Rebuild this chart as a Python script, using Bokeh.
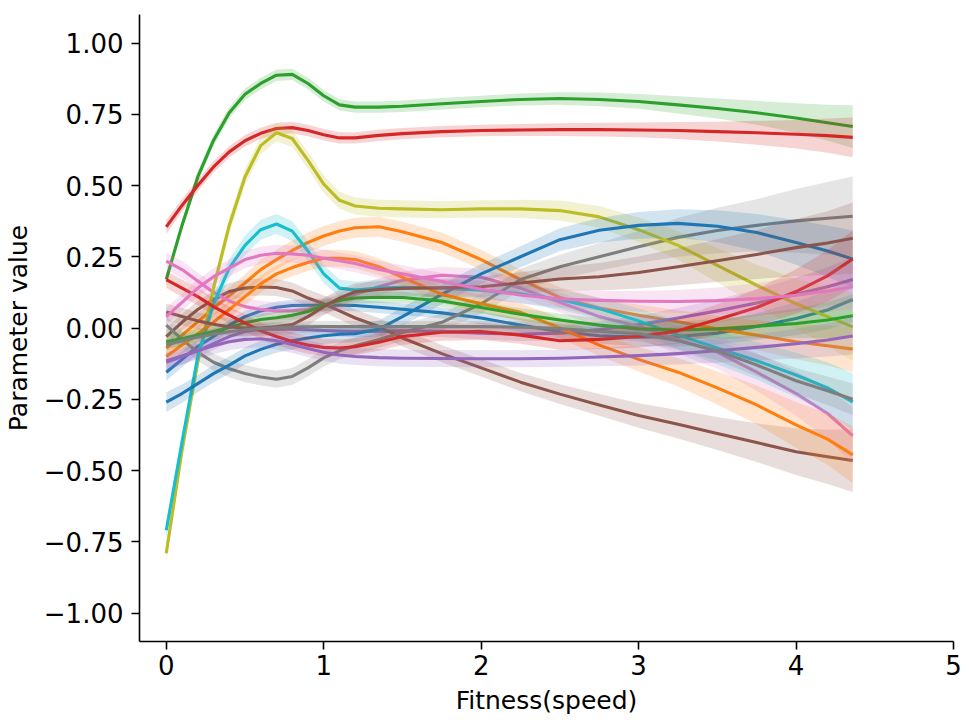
from bokeh.plotting import figure
from bokeh.models import Range1d, FixedTicker
from bokeh.embed import file_html
from bokeh.resources import INLINE

# x positions at which the curves were read
XS = [0, 0.1, 0.2, 0.3, 0.4, 0.5, 0.6, 0.7, 0.8, 0.9, 1.0, 1.1, 1.2, 1.35, 1.5, 1.75,
      2.0, 2.25, 2.5, 2.75, 3.0, 3.25, 3.5, 3.75, 4.0, 4.2, 4.36]

blue_1 = [-0.155, -0.11, -0.065, -0.03, 0.01, 0.04, 0.06, 0.073, 0.079, 0.08, 0.08, 0.08, 0.079, 0.073,
          0.066, 0.053, 0.035, 0.01, -0.012, -0.027, -0.032, -0.03, -0.018, 0.005, 0.033, 0.063, 0.10]
blue_1_ci = [0.03, 0.028, 0.025, 0.022, 0.02, 0.02, 0.02, 0.02, 0.02, 0.02, 0.02, 0.02, 0.02, 0.02,
             0.02, 0.02, 0.022, 0.024, 0.026, 0.028, 0.031, 0.035, 0.04, 0.047, 0.058, 0.068, 0.08]

orange_1 = [-0.07, -0.025, 0.022, 0.07, 0.113, 0.158, 0.205, 0.24, 0.272, 0.30, 0.323, 0.34, 0.352, 0.355,
            0.338, 0.30, 0.24, 0.17, 0.107, 0.07, 0.045, 0.022, -0.003, -0.025, -0.048, -0.062, -0.074]
orange_1_ci = [0.03, 0.03, 0.03, 0.03, 0.03, 0.03, 0.035, 0.035, 0.035, 0.035, 0.035, 0.035, 0.035, 0.035,
               0.035, 0.035, 0.035, 0.035, 0.035, 0.035, 0.037, 0.04, 0.045, 0.052, 0.062, 0.07, 0.08]

green_1 = [0.17, 0.36, 0.53, 0.658, 0.755, 0.82, 0.858, 0.887, 0.89, 0.858, 0.815, 0.783, 0.775, 0.775,
           0.778, 0.787, 0.795, 0.802, 0.805, 0.802, 0.795, 0.783, 0.77, 0.755, 0.737, 0.72, 0.707]
green_1_ci = [0.02, 0.02, 0.02, 0.02, 0.02, 0.02, 0.02, 0.02, 0.02, 0.02, 0.02, 0.02, 0.02, 0.02,
              0.02, 0.02, 0.02, 0.021, 0.022, 0.024, 0.026, 0.03, 0.035, 0.042, 0.052, 0.063, 0.075]

red_1 = [0.355, 0.43, 0.50, 0.565, 0.618, 0.657, 0.683, 0.70, 0.703, 0.693, 0.678, 0.667, 0.667, 0.676,
         0.682, 0.689, 0.693, 0.695, 0.696, 0.696, 0.695, 0.693, 0.689, 0.685, 0.68, 0.675, 0.669]
red_1_ci = [0.025, 0.022, 0.02, 0.02, 0.02, 0.02, 0.02, 0.02, 0.02, 0.02, 0.02, 0.02, 0.02, 0.02,
            0.02, 0.02, 0.02, 0.021, 0.022, 0.024, 0.026, 0.03, 0.035, 0.042, 0.05, 0.06, 0.07]

purple_1 = [-0.12, -0.10, -0.08, -0.055, -0.03, -0.012, -0.005, -0.003, -0.004, -0.006, -0.009, -0.011, -0.012, -0.011,
            -0.01, -0.012, -0.018, -0.022, -0.018, -0.005, 0.012, 0.035, 0.06, 0.088, 0.118, 0.145, 0.17]
purple_1_ci = [0.03, 0.028, 0.025, 0.022, 0.02, 0.02, 0.02, 0.02, 0.02, 0.02, 0.02, 0.02, 0.02, 0.02,
               0.02, 0.02, 0.022, 0.024, 0.026, 0.028, 0.031, 0.035, 0.04, 0.047, 0.058, 0.068, 0.08]

brown_1 = [-0.03, 0.02, 0.065, 0.10, 0.128, 0.14, 0.144, 0.142, 0.13, 0.105, 0.085, 0.06, 0.035, 0.005,
           -0.035, -0.09, -0.14, -0.19, -0.232, -0.27, -0.307, -0.338, -0.37, -0.402, -0.434, -0.452, -0.465]
brown_1_ci = [0.03, 0.03, 0.03, 0.03, 0.03, 0.03, 0.03, 0.03, 0.03, 0.03, 0.03, 0.03, 0.03, 0.03,
              0.03, 0.03, 0.03, 0.032, 0.035, 0.038, 0.043, 0.05, 0.058, 0.068, 0.082, 0.095, 0.11]

pink_1 = [0.235, 0.205, 0.165, 0.125, 0.095, 0.075, 0.065, 0.06, 0.06, 0.065, 0.077, 0.095, 0.118, 0.145,
          0.168, 0.185, 0.178, 0.14, 0.09, 0.04, 0.005, -0.04, -0.085, -0.155, -0.23, -0.30, -0.378]
pink_1_ci = [0.03, 0.03, 0.03, 0.03, 0.03, 0.03, 0.03, 0.03, 0.03, 0.03, 0.03, 0.03, 0.03, 0.03,
             0.03, 0.03, 0.03, 0.032, 0.035, 0.038, 0.043, 0.05, 0.058, 0.066, 0.078, 0.09, 0.10]

gray_1 = [0.01, -0.04, -0.085, -0.12, -0.143, -0.16, -0.172, -0.18, -0.17, -0.14, -0.105, -0.08, -0.062, -0.04,
          -0.016, 0.02, 0.085, 0.17, 0.215, 0.25, 0.285, 0.318, 0.342, 0.36, 0.376, 0.385, 0.392]
gray_1_ci = [0.03, 0.03, 0.03, 0.03, 0.03, 0.03, 0.03, 0.03, 0.03, 0.03, 0.03, 0.03, 0.03, 0.03,
             0.03, 0.03, 0.035, 0.038, 0.042, 0.048, 0.056, 0.068, 0.08, 0.092, 0.112, 0.127, 0.14]

olive_1 = [-0.79, -0.43, -0.12, 0.14, 0.36, 0.53, 0.64, 0.685, 0.665, 0.588, 0.505, 0.448, 0.428, 0.42,
           0.418, 0.415, 0.418, 0.418, 0.412, 0.39, 0.345, 0.29, 0.22, 0.15, 0.085, 0.04, 0.004]
olive_1_ci = [0.03, 0.03, 0.03, 0.03, 0.03, 0.03, 0.03, 0.03, 0.03, 0.03, 0.03, 0.03, 0.03, 0.03,
              0.03, 0.03, 0.03, 0.032, 0.035, 0.038, 0.043, 0.05, 0.06, 0.072, 0.088, 0.104, 0.12]

cyan_1 = [-0.71, -0.40, -0.10, 0.085, 0.21, 0.29, 0.345, 0.365, 0.34, 0.27, 0.19, 0.14, 0.133, 0.14,
          0.143, 0.14, 0.133, 0.12, 0.10, 0.068, 0.025, -0.025, -0.07, -0.115, -0.165, -0.21, -0.259]
cyan_1_ci = [0.03, 0.03, 0.03, 0.03, 0.033, 0.035, 0.035, 0.035, 0.035, 0.035, 0.032, 0.03, 0.03, 0.03,
             0.03, 0.03, 0.03, 0.032, 0.035, 0.038, 0.043, 0.05, 0.058, 0.066, 0.078, 0.09, 0.10]

blue_2 = [-0.26, -0.23, -0.195, -0.16, -0.13, -0.098, -0.075, -0.057, -0.045, -0.035, -0.027, -0.022, -0.02, -0.004,
          0.04, 0.118, 0.19, 0.25, 0.31, 0.343, 0.36, 0.367, 0.357, 0.335, 0.30, 0.27, 0.242]
blue_2_ci = [0.035, 0.032, 0.03, 0.03, 0.03, 0.03, 0.03, 0.03, 0.03, 0.03, 0.03, 0.03, 0.03, 0.03,
             0.032, 0.035, 0.035, 0.037, 0.04, 0.043, 0.047, 0.05, 0.056, 0.065, 0.078, 0.09, 0.10]

orange_2 = [-0.10, -0.06, -0.02, 0.02, 0.065, 0.11, 0.155, 0.19, 0.212, 0.23, 0.245, 0.245, 0.24, 0.215,
            0.178, 0.118, 0.085, 0.055, 0.0, -0.06, -0.11, -0.155, -0.21, -0.27, -0.34, -0.39, -0.445]
orange_2_ci = [0.03, 0.03, 0.03, 0.03, 0.03, 0.03, 0.03, 0.03, 0.03, 0.03, 0.03, 0.03, 0.03, 0.03,
               0.03, 0.03, 0.03, 0.032, 0.035, 0.038, 0.043, 0.05, 0.058, 0.068, 0.08, 0.09, 0.10]

green_2 = [-0.048, -0.038, -0.025, -0.012, 0.002, 0.018, 0.03, 0.036, 0.045, 0.058, 0.08, 0.097, 0.105, 0.108,
           0.107, 0.095, 0.072, 0.048, 0.028, 0.01, -0.003, -0.007, -0.003, 0.006, 0.016, 0.028, 0.043]
green_2_ci = [0.025, 0.023, 0.022, 0.02, 0.02, 0.02, 0.02, 0.02, 0.02, 0.02, 0.02, 0.02, 0.02, 0.02,
              0.02, 0.02, 0.02, 0.021, 0.022, 0.024, 0.026, 0.03, 0.035, 0.042, 0.052, 0.063, 0.075]

red_2 = [0.17, 0.14, 0.11, 0.075, 0.045, 0.017, -0.01, -0.03, -0.047, -0.06, -0.068, -0.07, -0.066, -0.05,
         -0.03, -0.015, -0.012, -0.025, -0.045, -0.04, -0.03, -0.01, 0.03, 0.072, 0.128, 0.183, 0.242]
red_2_ci = [0.03, 0.03, 0.03, 0.03, 0.03, 0.03, 0.03, 0.03, 0.03, 0.03, 0.03, 0.03, 0.03, 0.03,
            0.03, 0.03, 0.03, 0.03, 0.031, 0.034, 0.038, 0.045, 0.053, 0.064, 0.078, 0.09, 0.10]

purple_2 = [-0.115, -0.098, -0.08, -0.062, -0.048, -0.04, -0.038, -0.045, -0.058, -0.072, -0.085, -0.095, -0.10, -0.104,
            -0.106, -0.107, -0.108, -0.108, -0.106, -0.102, -0.097, -0.09, -0.08, -0.068, -0.055, -0.042, -0.028]
purple_2_ci = [0.03, 0.03, 0.03, 0.03, 0.03, 0.03, 0.03, 0.03, 0.03, 0.03, 0.03, 0.03, 0.03, 0.03,
               0.03, 0.03, 0.03, 0.03, 0.03, 0.032, 0.035, 0.038, 0.042, 0.046, 0.052, 0.058, 0.065]

brown_2 = [0.056, 0.04, 0.025, 0.013, 0.004, 0.0, 0.0, 0.005, 0.012, 0.04, 0.075, 0.105, 0.127, 0.135,
           0.139, 0.141, 0.145, 0.158, 0.172, 0.18, 0.195, 0.215, 0.236, 0.258, 0.282, 0.298, 0.315]
brown_2_ci = [0.03, 0.03, 0.03, 0.03, 0.03, 0.03, 0.03, 0.03, 0.03, 0.03, 0.03, 0.03, 0.03, 0.03,
              0.03, 0.032, 0.035, 0.038, 0.042, 0.048, 0.056, 0.065, 0.075, 0.086, 0.1, 0.112, 0.125]

pink_2 = [0.04, 0.09, 0.14, 0.18, 0.21, 0.24, 0.255, 0.262, 0.26, 0.255, 0.245, 0.236, 0.226, 0.205,
          0.19, 0.163, 0.136, 0.116, 0.102, 0.097, 0.094, 0.093, 0.096, 0.103, 0.115, 0.13, 0.145]
pink_2_ci = [0.03, 0.03, 0.03, 0.03, 0.03, 0.03, 0.03, 0.03, 0.03, 0.03, 0.03, 0.03, 0.03, 0.03,
             0.03, 0.03, 0.03, 0.03, 0.03, 0.033, 0.036, 0.04, 0.046, 0.054, 0.065, 0.073, 0.08]

gray_2 = [-0.06, -0.045, -0.032, -0.022, -0.013, -0.006, -0.002, 0.001, 0.003, 0.004, 0.005, 0.005, 0.005, 0.005,
          0.005, 0.005, 0.005, 0.003, -0.002, -0.012, -0.02, -0.045, -0.08, -0.13, -0.185, -0.22, -0.25]
gray_2_ci = [0.02, 0.02, 0.02, 0.02, 0.02, 0.02, 0.02, 0.02, 0.02, 0.02, 0.02, 0.02, 0.02, 0.02,
             0.02, 0.02, 0.02, 0.021, 0.022, 0.024, 0.027, 0.03, 0.034, 0.039, 0.045, 0.05, 0.055]

TAB10 = {
    "blue": "#1f77b4", "orange": "#ff7f0e", "green": "#2ca02c", "red": "#d62728",
    "purple": "#9467bd", "brown": "#8c564b", "pink": "#e377c2", "gray": "#7f7f7f",
    "olive": "#bcbd22", "cyan": "#17becf",
}

SERIES = [
    ("blue", blue_1, blue_1_ci), ("orange", orange_1, orange_1_ci),
    ("green", green_1, green_1_ci), ("red", red_1, red_1_ci),
    ("purple", purple_1, purple_1_ci), ("brown", brown_1, brown_1_ci),
    ("pink", pink_1, pink_1_ci), ("gray", gray_1, gray_1_ci),
    ("olive", olive_1, olive_1_ci), ("cyan", cyan_1, cyan_1_ci),
    ("blue", blue_2, blue_2_ci), ("orange", orange_2, orange_2_ci),
    ("green", green_2, green_2_ci), ("red", red_2, red_2_ci),
    ("purple", purple_2, purple_2_ci), ("brown", brown_2, brown_2_ci),
    ("pink", pink_2, pink_2_ci), ("gray", gray_2, gray_2_ci),
]

X_TICKS = [0, 1, 2, 3, 4, 5]
Y_TICKS = [-1.0, -0.75, -0.5, -0.25, 0.0, 0.25, 0.5, 0.75, 1.0]
Y_LABELS = ["\u22121.00", "\u22120.75", "\u22120.50", "\u22120.25", "0.00", "0.25", "0.50", "0.75", "1.00"]

FONT = "DejaVu Sans"

p = figure(width=969, height=720, x_range=Range1d(-0.17, 5.0), y_range=Range1d(-1.1, 1.1),
           output_backend="svg", toolbar_location=None,
           min_border_left=137, min_border_right=16, min_border_top=14, min_border_bottom=79)
p.outline_line_color = None
p.xgrid.visible = False
p.ygrid.visible = False
p.background_fill_color = "white"
p.border_fill_color = "white"

for cname, ys, ci in SERIES:
    col = TAB10[cname]
    lo = [y - c for y, c in zip(ys, ci)]
    hi = [y + c for y, c in zip(ys, ci)]
    p.line(XS, ys, line_color=col, line_width=3.1, line_join="round")
    p.varea(x=XS, y1=lo, y2=hi, fill_color=col, fill_alpha=0.2)

p.xaxis.ticker = FixedTicker(ticks=X_TICKS)
p.yaxis.ticker = FixedTicker(ticks=Y_TICKS)
p.yaxis.major_label_overrides = {t: s for t, s in zip(Y_TICKS, Y_LABELS)}
for ax in (p.xaxis[0], p.yaxis[0]):
    ax.minor_tick_line_color = None
    ax.major_tick_out = 8
    ax.major_tick_in = 0
    ax.major_tick_line_width = 1.6
    ax.axis_line_width = 1.6
    ax.axis_line_color = "black"
    ax.major_tick_line_color = "black"
    ax.major_label_text_font = FONT
    ax.major_label_text_font_size = "26px"
    ax.major_label_text_color = "black"
    ax.axis_label_text_font = FONT
    ax.axis_label_text_font_size = "25px"
    ax.axis_label_text_font_style = "normal"
    ax.axis_label_text_color = "black"

p.xaxis.major_label_standoff = 5
p.yaxis.major_label_standoff = 8
p.xaxis.axis_label = "Fitness(speed)"
p.yaxis.axis_label = "Parameter value"
p.xaxis.axis_label_standoff = 8
p.yaxis.axis_label_standoff = 8

open("out.html", "w").write(file_html(p, INLINE))
